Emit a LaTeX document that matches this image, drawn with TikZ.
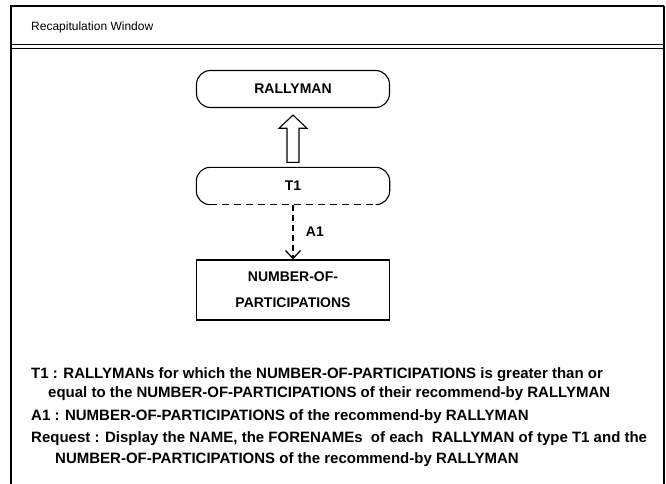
\documentclass[tikz,border=0pt]{standalone}
\usepackage{fontspec}
\setmainfont{Liberation Sans}
\usetikzlibrary{arrows.meta,calc}
\begin{document}
\begin{tikzpicture}[x=1pt,y=-1pt,
    every node/.style={font=\bfseries\fontsize{14}{16}\selectfont},
    entity/.style={minimum width=193pt,minimum height=37pt,rounded corners=14pt},
    attrbox/.style={draw,line width=1.1pt,minimum width=193pt,minimum height=60pt,align=center},
    textline/.style={anchor=west,inner sep=0pt,font=\bfseries\fontsize{15}{17}\selectfont}]
    \useasboundingbox (0,0) rectangle (666,484);
    % window frame
    \draw[line width=1.3pt] (11,490) -- (11,6) -- (664,6);
    \draw[line width=2pt] (664,6) -- (664,490);
    \draw[line width=1pt] (11,45) -- (664,45);
    \draw[line width=1pt] (11,49) -- (664,49);
    \node[anchor=west,inner sep=0pt,font=\fontsize{12}{14}\selectfont] (title) at (31,27) {Recapitulation Window};
    % schema
    \node[entity,draw,line width=1.1pt] (rally) at (293,89) {RALLYMAN};
    \node[entity] (t1) at (293,186) {T1};
    \draw[line width=1.1pt,rounded corners=14pt] ($(t1.south west)+(14,0)$) -- (t1.south west)
        -- (t1.north west) -- (t1.north east) -- (t1.south east) -- ($(t1.south east)+(-14,0)$);
    \draw[line width=1.1pt,dash pattern=on 7pt off 5pt] ($(t1.south west)+(14,0)$) -- ($(t1.south east)+(-14,0)$);
    \node[attrbox] (nop) at (293,290) {NUMBER-OF-\\[10pt]PARTICIPATIONS};
    % hollow arrow T1 -> RALLYMAN
    \draw[line width=1.1pt] ($(t1.north)+(-6,-5)$) -- ++(0,-34) -- ++(-8,0)
        -- ($(rally.south)+(0,7)$) -- ($(t1.north)+(14,-39)$) -- ++(-8,0) -- ($(t1.north)+(6,-5)$) -- cycle;
    % dashed arrow T1 -> NUMBER-OF-PARTICIPATIONS
    \draw[line width=1.3pt,dash pattern=on 6pt off 4pt,-{Straight Barb[length=8pt,width=15pt]}] (t1.south) -- (nop.north)
        node[midway,right=9pt] (a1) {A1};
    % legend
    \node[textline] (l1) at (31,375) {T1 : RALLYMANs for which the NUMBER-OF-PARTICIPATIONS is greater than or};
    \node[textline] (l2) at (48,394) {equal to the NUMBER-OF-PARTICIPATIONS of their recommend-by RALLYMAN};
    \node[textline] (l3) at (31,417) {A1 : NUMBER-OF-PARTICIPATIONS of the recommend-by RALLYMAN};
    \node[textline] (l4) at (31,439) {Request : Display the NAME, the FORENAMEs\ \ of each\ \ RALLYMAN of type T1 and the};
    \node[textline] (l5) at (55,460) {NUMBER-OF-PARTICIPATIONS of the recommend-by RALLYMAN};
\end{tikzpicture}
\end{document}
